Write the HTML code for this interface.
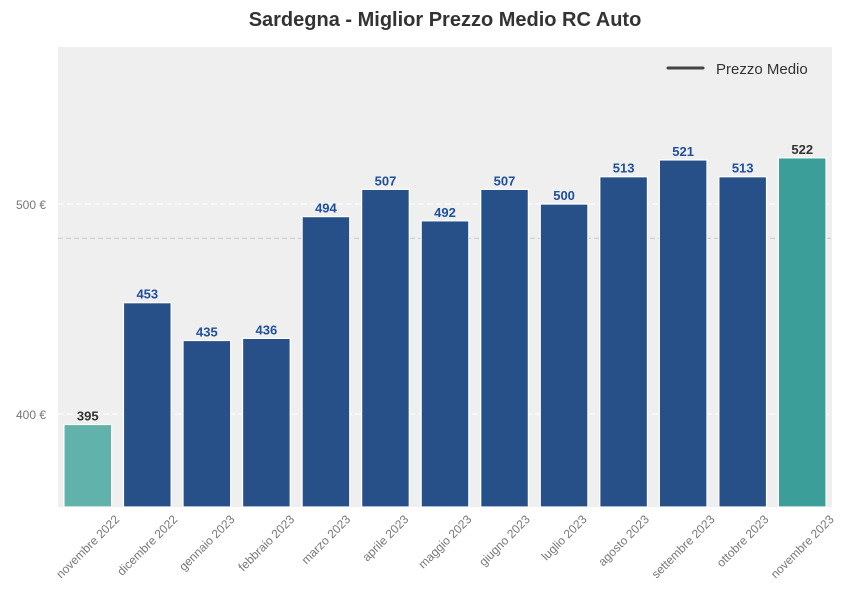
<!DOCTYPE html>
<html><head><meta charset="utf-8"><style>
body{margin:0;background:#fff;}
svg{font-family:"Liberation Sans",Arial,sans-serif;display:block}
</style></head><body>
<svg id="chart" width="852" height="610" viewBox="0 0 852 610">
<text x="445" y="26" text-anchor="middle" font-size="20" font-weight="bold" fill="#333">Sardegna - Miglior Prezzo Medio RC Auto</text>
<rect x="58" y="47" width="774" height="460" fill="#efefef"/>
<g id="grid"></g><g id="bars"></g><g id="labels"></g><g id="xlabels"></g>
<g>
<line x1="668" y1="68" x2="703" y2="68" stroke="#444" stroke-width="3" stroke-linecap="round"/>
<text x="716" y="74" font-size="15" fill="#333">Prezzo Medio</text>
</g>
</svg>
<script>
const categories=["novembre 2022","dicembre 2022","gennaio 2023","febbraio 2023","marzo 2023","aprile 2023","maggio 2023","giugno 2023","luglio 2023","agosto 2023","settembre 2023","ottobre 2023","novembre 2023"];
const values=[395,453,435,436,494,507,492,507,500,513,521,513,522];
const yTicks=[400,500];
const yTickLabels=["400 €","500 €"];
const NS="http://www.w3.org/2000/svg";
const X0=58,X1=832,Y0=507,Y1=47,VMIN=355.7,VMAX=574.8;
const y=v=>Y0-(v-VMIN)/(VMAX-VMIN)*(Y0-Y1);
const band=(X1-X0)/categories.length;
const xc=i=>X0+band*(i+0.5);
function mk(tag,attrs,parent){const e=document.createElementNS(NS,tag);for(const k in attrs)e.setAttribute(k,attrs[k]);parent.appendChild(e);return e;}
const grid=document.getElementById('grid');
yTicks.forEach((t,i)=>{
 const l=mk('line',{x1:X0,x2:X1,y1:y(t),y2:y(t),stroke:'#fff','stroke-width':1,'stroke-dasharray':'6,3'},grid);
 
 
 const tx=mk('text',{x:X0-12,y:y(t)+5,'text-anchor':'end','font-size':12,fill:'#777'},grid);
 tx.textContent=yTickLabels[i];
 
 
});
const mean=values.reduce((a,b)=>a+b,0)/values.length;
const ml=mk('line',{x1:X0,x2:X1,y1:y(mean),y2:y(mean),stroke:'#c8c8c8','stroke-width':1,'stroke-dasharray':'5,3'},grid);


const bars=document.getElementById('bars'),labels=document.getElementById('labels'),xl=document.getElementById('xlabels');
const bw=band*0.8;
values.forEach((v,i)=>{
 const last=i===values.length-1,first=i===0;
 const fill=first?'#62b2ac':last?'#3c9e99':'#274f88';
 const r=mk('rect',{x:xc(i)-bw/2,y:y(v),width:bw,height:Y0-y(v),fill:fill,stroke:'#fff','stroke-width':1.2},bars);
 
 
 const t=mk('text',{x:xc(i),y:y(v)-4,'text-anchor':'middle','font-size':13,'font-weight':'bold',fill:(first||last)?'#333':'#1f4f9c'},labels);
 t.textContent=v;
 
 
 const g=mk('text',{'text-anchor':'middle','dominant-baseline':'central','font-size':12,fill:'#777'},xl);
 g.textContent=categories[i];
 
 
 const L=g.getComputedTextLength()||categories[i].length*6.5;
 const cy=Y0+6+(L*0.707+12*0.707)/2;
 g.setAttribute('x',xc(i));g.setAttribute('y',cy);
 g.setAttribute('transform','rotate(-45 '+xc(i)+' '+cy+')');
});
</script>
</body></html>
